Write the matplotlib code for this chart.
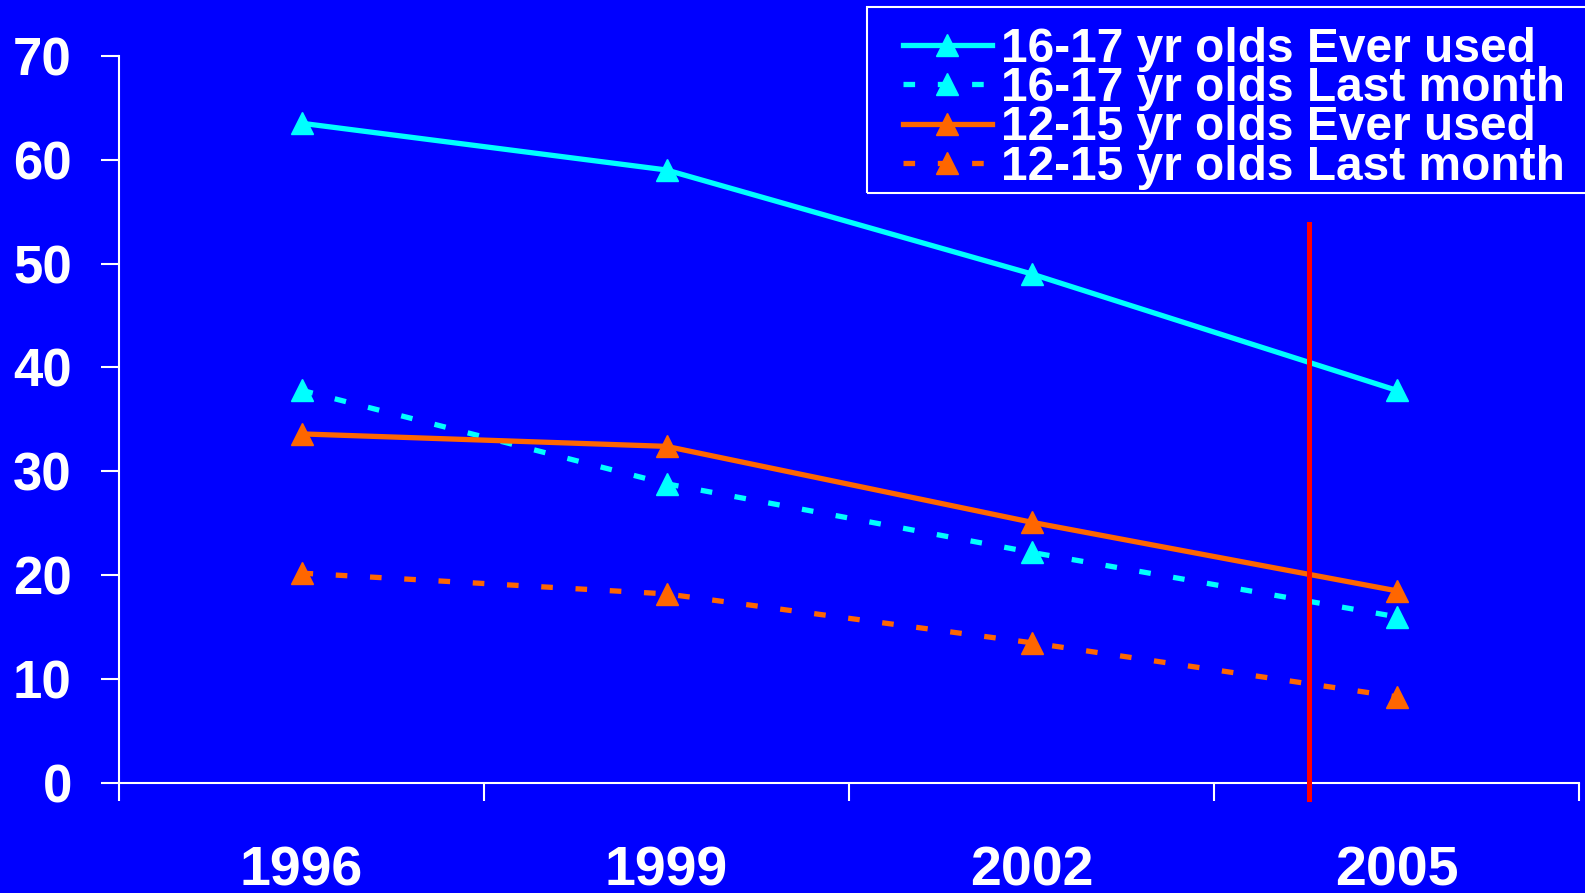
import matplotlib
matplotlib.use("Agg")
import matplotlib.pyplot as plt
from matplotlib.patches import Rectangle
import numpy as np

# survey years and prevalence (%)
years = ["1996", "1999", "2002", "2005"]
older_ever = [63.5, 59.0, 49.0, 37.8]
older_month = [37.8, 28.8, 22.2, 16.0]
younger_ever = [33.6, 32.4, 25.1, 18.5]
younger_month = [20.2, 18.2, 13.5, 8.3]
labels = ["16-17 yr olds Ever used", "16-17 yr olds Last month",
          "12-15 yr olds Ever used", "12-15 yr olds Last month"]

# red marker line between 2002 and 2005
cut_x = 2.76
cut_y = (-1.5, 53.8)

bg = "#0000FF"
cyan = "#00FFFF"
orange = "#FF6600"

plt.rcParams["font.family"] = ["Liberation Sans", "DejaVu Sans"]
plt.rcParams["font.weight"] = "bold"

W, H = 1585, 893
fig = plt.figure(figsize=(W / 100, H / 100), dpi=100, facecolor=bg)
ax = fig.add_axes([119 / W, 1 - 783 / H, 1460 / W, (783 - 55.7) / H])
ax.set_facecolor(bg)

x = np.arange(len(years))
dash = (2.2, 4.3)
style = dict(lw=3.8, marker="^", ms=16)
ax.plot(x, older_ever, color=cyan, label=labels[0], **style)
ax.plot(x, older_month, color=cyan, dashes=dash, label=labels[1], **style)
ax.plot(x, younger_ever, color=orange, label=labels[2], **style)
ax.plot(x, younger_month, color=orange, dashes=dash, label=labels[3], **style)

ax.plot([cut_x, cut_x], cut_y, color="#FF0000", lw=3.6, clip_on=False, zorder=5)

ax.set_xlim(-0.5, len(years) - 0.5)
ax.set_ylim(0, 70)
ax.set_yticks(range(0, 71, 10))

ax.set_xticks(x)
ax.set_xticklabels(years)
ax.set_xticks(np.arange(-0.5, len(years)), minor=True)
ax.tick_params(axis="x", which="major", length=0, pad=45, labelsize=40, colors="white")
ax.tick_params(axis="x", which="minor", length=13, width=1.5, color="white")
ax.tick_params(axis="y", length=13, width=1.5, pad=21, labelsize=38, colors="white")

for side in ["top", "right"]:
    ax.spines[side].set_visible(False)
for side in ["left", "bottom"]:
    ax.spines[side].set_color("white")
    ax.spines[side].set_linewidth(1.5)

# legend frame runs off the right edge
fig.patches.append(Rectangle((867 / W, 1 - 193 / H), 740 / W, 185.5 / H,
                             transform=fig.transFigure, fill=False,
                             edgecolor="white", lw=1.5, clip_on=False))

leg = ax.legend(loc="upper left", bbox_to_anchor=(903 / W, 1 - 27 / H),
                bbox_transform=fig.transFigure, borderaxespad=0, borderpad=0,
                handlelength=1.85, handletextpad=0.2, labelspacing=-0.12,
                fontsize=34.5, frameon=False)
for t in leg.get_texts():
    t.set_color("white")

fig.savefig("out.png", dpi=100, facecolor=bg)
